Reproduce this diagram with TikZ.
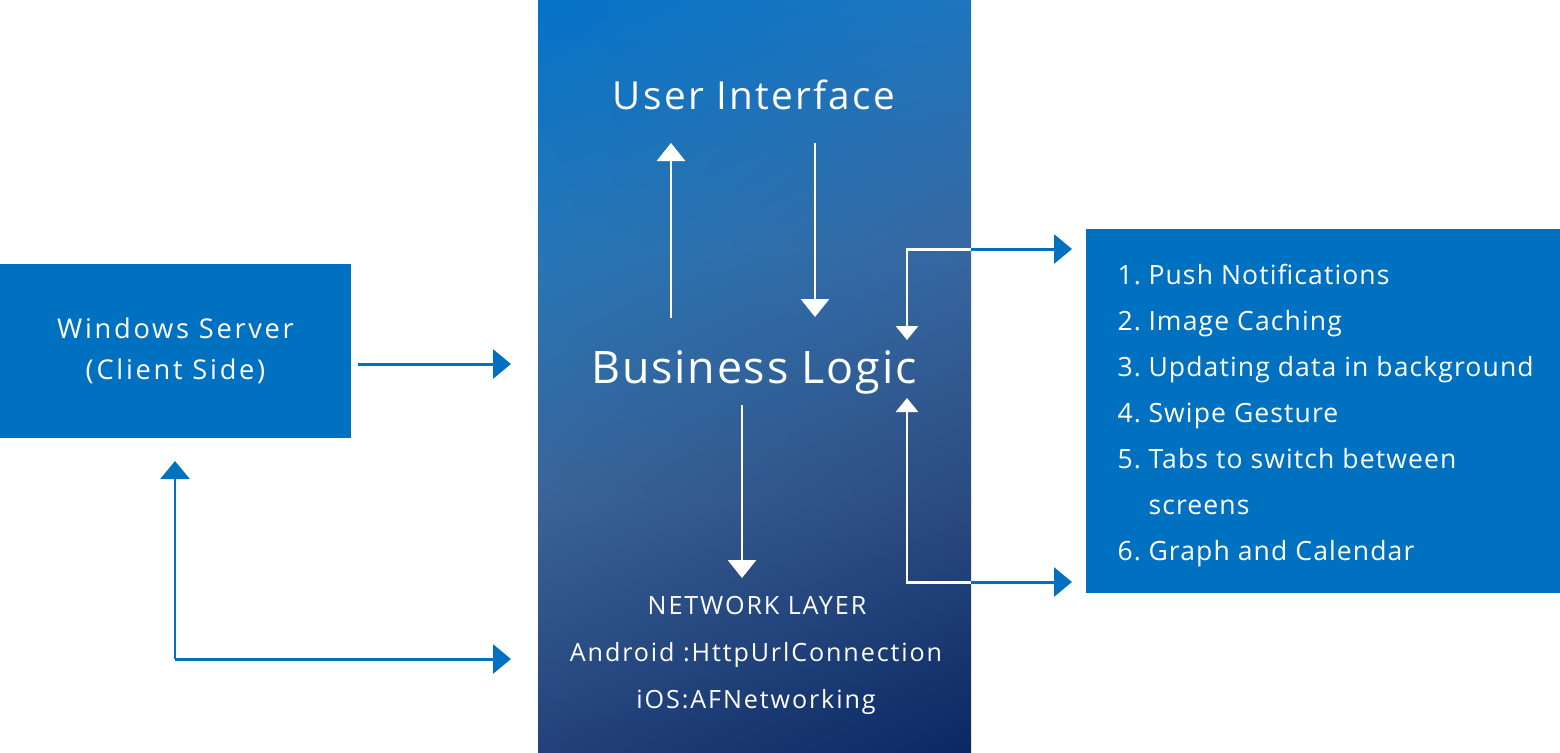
\documentclass[tikz,border=0pt]{standalone}
\usepackage{fontspec}
\setmainfont{Open Sans}
\usetikzlibrary{arrows.meta,shadings}

\definecolor{boxblue}{RGB}{0,113,192}
\definecolor{c0l}{RGB}{5,115,200}
\definecolor{c0r}{RGB}{30,118,190}
\definecolor{c1l}{RGB}{38,118,182}
\definecolor{c1r}{RGB}{55,103,160}
\definecolor{c2l}{RGB}{58,100,152}
\definecolor{c2r}{RGB}{42,74,128}
\definecolor{c3l}{RGB}{35,65,122}
\definecolor{c3r}{RGB}{10,40,100}

\begin{document}
\begin{tikzpicture}[x=0.02cm,y=-0.02cm,line width=1.7pt]
    \tikzstyle{panel}=[inner sep=0pt,outer sep=0pt,text=white]
    \tikzstyle{side box}=[panel,fill=boxblue]
    \tikzstyle{label}=[text=white,inner sep=0pt]
    \tikzstyle{server font}=[font=\fontsize{15.5}{23.2}\selectfont\addfontfeature{LetterSpace=10}]
    \tikzstyle{net font}=[font=\fontsize{14.3}{17}\selectfont\addfontfeature{LetterSpace=7.5}]
    \tikzstyle{list font}=[font=\fontsize{15.1}{18}\selectfont\addfontfeature{LetterSpace=4.2}]
    \tikzstyle{blue arrow}=[draw=boxblue,-{Triangle[width=0.58cm,length=0.36cm]}]
    \tikzstyle{white arrow}=[draw=white,-{Triangle[width=0.56cm,length=0.36cm]}]
    \tikzstyle{thin arrow}=[draw=white,-{Triangle[width=0.44cm,length=0.28cm]}]

    \useasboundingbox (0,0) rectangle (1560,752);

    % Draw the three blocks.
    \node[side box,server font,minimum width=7.02cm,minimum height=3.48cm,align=center] (server) at (175.5,351)
          {Windows Server\\(Client Side)};
    \foreach \ya / \yb / \i / \j in {0/251/0/1, 250/501/1/2, 500/752/2/3}
        \shade[upper left=c\i l,upper right=c\i r,lower left=c\j l,lower right=c\j r]
            (538,\ya) rectangle (971,\yb);
    \node[panel,minimum width=8.66cm,minimum height=15.04cm] (core) at (754.5,376) {};
    \node[side box,minimum width=9.48cm,minimum height=7.28cm] (features) at (1323,411) {};

    % Texts of the core block.
    \node[label,font=\fontsize{22}{26}\selectfont\addfontfeature{LetterSpace=6}] (ui) at (754,95) {User Interface};
    \node[label,font=\fontsize{25.5}{30}\selectfont\addfontfeature{LetterSpace=4}] (logic) at (754,372) {Business Logic};
    \node[label,net font] (net-1) at (757,606) {NETWORK LAYER};
    \node[label,net font] (net-2) at (756,655) {Android :HttpUrlConnection};
    \node[label,net font] (net-3) at (756,702) {iOS:AFNetworking};

    % List of the features.
    \foreach \num / \item / \y in {1/Push Notifications/284.5, 2/Image Caching/330.5,
            3/Updating data in background/376.5, 4/Swipe Gesture/422.5,
            5/Tabs to switch between/468.5, 6/Graph and Calendar/560.5}
    {
        \node[label,list font,anchor=base west] (num-\num) at (1116,\y) {\num.};
        \node[label,list font,anchor=base west] (item-\num) at (1147,\y) {\item};
    }
    \node[label,list font,anchor=base west] (item-5b) at (1147,514.5) {screens};

    % Ends of the connectors.
    \coordinate (srv-out) at (358,364);
    \coordinate (core-in) at (511,364);
    \coordinate (up-from) at (671,318);
    \coordinate (up-to) at (671,143);
    \coordinate (down-from) at (815,143);
    \coordinate (down-to) at (815,317);
    \coordinate (net-from) at (742,405);
    \coordinate (net-to) at (742,578);
    \coordinate (top-edge) at (971,249);
    \coordinate (top-in) at (907,340);
    \coordinate (top-out) at (1072,249);
    \coordinate (bot-edge) at (971,582);
    \coordinate (bot-in) at (907,398);
    \coordinate (bot-out) at (1072,582);
    \coordinate (srv-up) at (175,461);
    \coordinate (srv-corner) at (175,659);
    \coordinate (core-low) at (511,659);

    % Connect server with core.
    \draw[blue arrow] (srv-out) -- (core-in);
    \draw[blue arrow] (srv-corner) -- (srv-up);
    \draw[blue arrow] (srv-corner) -- (core-low);

    % Inside the core.
    \draw[white arrow] (up-from) -- (up-to);
    \draw[white arrow] (down-from) -- (down-to);
    \draw[white arrow] (net-from) -- (net-to);

    % Connect core with the features.
    \draw[thin arrow] (top-edge) -| (top-in);
    \draw[blue arrow] (top-edge) -- (top-out);
    \draw[thin arrow] (bot-edge) -| (bot-in);
    \draw[blue arrow] (bot-edge) -- (bot-out);
\end{tikzpicture}
\end{document}
